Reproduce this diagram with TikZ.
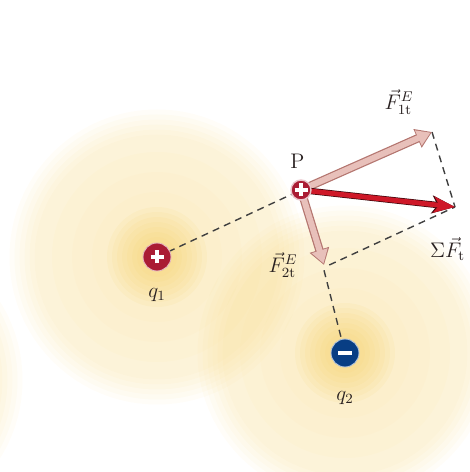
\documentclass[tikz,border=0pt]{standalone}
\usepackage{amsmath}
\usepackage{xcolor}
\usepackage{tikz}
\usetikzlibrary{arrows.meta, positioning, calc}
\definecolor{chargered}{RGB}{170,28,52}
\definecolor{chargeblue}{RGB}{8,62,132}
\definecolor{glowyellow}{RGB}{244,204,92}
\definecolor{forcepink}{RGB}{232,192,186}
\definecolor{forceedge}{RGB}{180,118,112}
\definecolor{netred}{RGB}{206,24,40}
\definecolor{labelgray}{RGB}{40,32,32}
% soft glow: stacked see-through discs
\newcommand{\chargeglow}[1]{%
  \foreach \r in {2.45,2.55,...,3.05} \fill[glowyellow, fill opacity=0.045] (#1) circle (\r);
  \foreach \r in {1.3,1.7,2.1} \fill[glowyellow, fill opacity=0.035] (#1) circle (\r);
  \foreach \r in {0.3,0.4,...,1.0} \fill[glowyellow, fill opacity=0.09] (#1) circle (\r);
}
\tikzset{
  charge/.style={circle, inner sep=0pt, minimum size=0.56cm, draw=white!70!#1,
    line width=0.5pt, fill=#1},
  plussign/.style={path picture={
    \draw[white, line width=2.2pt] ([xshift=-0.13cm]path picture bounding box.center)
      -- ([xshift=0.13cm]path picture bounding box.center);
    \draw[white, line width=2.2pt] ([yshift=-0.13cm]path picture bounding box.center)
      -- ([yshift=0.13cm]path picture bounding box.center);}},
  minussign/.style={path picture={
    \draw[white, line width=2.6pt] ([xshift=-0.14cm]path picture bounding box.center)
      -- ([xshift=0.14cm]path picture bounding box.center);}},
  guide/.style={dashed, dash pattern=on 4pt off 3pt, line width=0.8pt, color=black!75},
  forceedgeline/.style={line width=4.8pt, forceedge, -{Triangle[length=9pt, width=11pt]}},
  forcefill/.style={line width=3.4pt, forcepink, -{Triangle[length=7.6pt, width=9pt]},
    shorten >=0.9pt},
  netforce/.style={line width=2.8pt, netred, -{Stealth[length=12pt, width=9pt, inset=3pt]}},
  lbl/.style={font=\large, text=labelgray}
}

\begin{document}
\begin{tikzpicture}
    \useasboundingbox (0,0) rectangle (9.38,9.44);

    % Glows round the charges
    \chargeglow{3.14,4.30}
    \chargeglow{6.90,2.38}
    \chargeglow{-2.50,1.84}

    % Tips of the force vectors
    \coordinate (Pc) at (6.02,5.64);
    \coordinate (f1) at (8.64,6.80);
    \coordinate (f2) at (6.48,4.14);
    \coordinate (sum) at ($(f1)+(f2)-(Pc)$);

    % Dashed guides
    \draw[guide] (3.14,4.30) -- (Pc);
    \draw[guide] (f1) -- (sum);
    \draw[guide] ([xshift=3pt]f2) -- (sum);
    \draw[guide] ([yshift=-3pt]f2) -- (6.90,2.38);

    % Forces on the test charge
    \draw[forceedgeline] (Pc) -- (f1);
    \draw[forcefill] (Pc) -- (f1);
    \draw[forceedgeline] (Pc) -- (f2);
    \draw[forcefill] (Pc) -- (f2);
    \draw[line width=3.6pt, black!70!netred, -{Stealth[length=13pt, width=10pt, inset=3pt]}]
      (Pc) -- (sum);
    \draw[netforce] (Pc) -- (sum);

    % Charges
    \node[charge=chargered, plussign] (q1) at (3.14,4.30) {};
    \node[charge=chargeblue, minussign] (q2) at (6.90,2.38) {};
    \node[charge=chargered, plussign, minimum size=0.4cm, draw=white!75!chargered,
      line width=0.8pt] (P) at (Pc) {};

    % Labels
    \node[lbl, below=0.22cm of q1] {$q_1$};
    \node[lbl, below=0.36cm of q2] {$q_2$};
    \node[lbl, above=0.1cm of P, xshift=-2pt] {P};
    \node[lbl] at (7.98,7.40) {$\vec{F}^{E}_{1\mathrm{t}}$};
    \node[lbl] at (5.66,4.14) {$\vec{F}^{E}_{2\mathrm{t}}$};
    \node[lbl, anchor=west] at (8.48,4.46) {$\Sigma\vec{F}_{\mathrm{t}}$};
  \end{tikzpicture}
\end{document}
